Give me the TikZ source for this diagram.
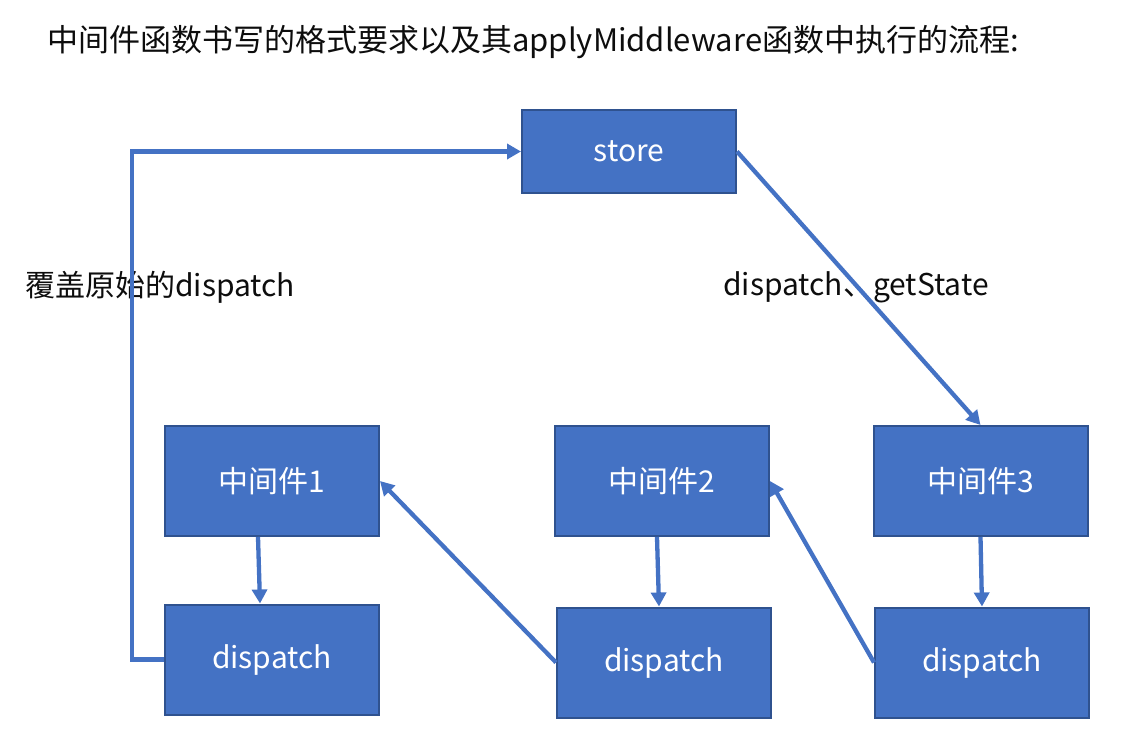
\documentclass[tikz,border=0pt]{standalone}
\usepackage{fontspec}
\setmainfont{Noto Sans CJK SC}
\usetikzlibrary{arrows.meta,positioning}
\definecolor{boxblue}{HTML}{4472C4}
\definecolor{boxedge}{HTML}{2F528F}
\definecolor{textgray}{HTML}{0D0D0D}

\begin{document}
\begin{tikzpicture}[
  x=1pt, y=-1pt,
  >={Triangle[length=14pt,width=15pt]},
  block/.style={rectangle, draw=boxedge, fill=boxblue, line width=2pt, minimum width=214pt, minimum height=110pt, align=center, text=white, font=\fontsize{30}{34}\selectfont},
  flow/.style={->, draw=boxblue, line width=4.3pt},
  label/.style={anchor=west, inner sep=0pt, text=textgray, font=\fontsize{30}{34}\selectfont}
]
  \useasboundingbox (0,0) rectangle (1126,751);
  \node[label, font=\fontsize{31}{36}\selectfont] (title) at (47,42) {中间件函数书写的格式要求以及其applyMiddleware函数中执行的流程:};
  \node[block, minimum height=83pt] (st) at (629,151.5) {store};
  \node[block] (mw1) at (272,481) {中间件1};
  \node[block] (dp1) at (272,659.5) {dispatch};
  \node[block] (mw2) at (662,481) {中间件2};
  \node[block] (dp2) at (664,662.5) {dispatch};
  \node[block] (mw3) at (980.5,481) {中间件3};
  \node[block] (dp3) at (982,662.5) {dispatch};
  \node[label] (cover) at (25,287) {覆盖原始的dispatch};
  \node[label] (api) at (723,287) {dispatch、getState};
  \draw[flow] (dp1.west) -- ++(-32,0) |- (st.west);
  \draw[flow] (st.east) -- (mw3.north);
  \draw[flow] (mw3.south) -- (dp3.north);
  \draw[flow] (dp3.west) -- (mw2.east);
  \draw[flow] ([xshift=-5pt]mw2.south) -- ([xshift=-5pt]dp2.north);
  \draw[flow] (dp2.west) -- (mw1.east);
  \draw[flow] ([xshift=-14pt]mw1.south) -- ([xshift=-12pt]dp1.north);
\end{tikzpicture}
\end{document}
